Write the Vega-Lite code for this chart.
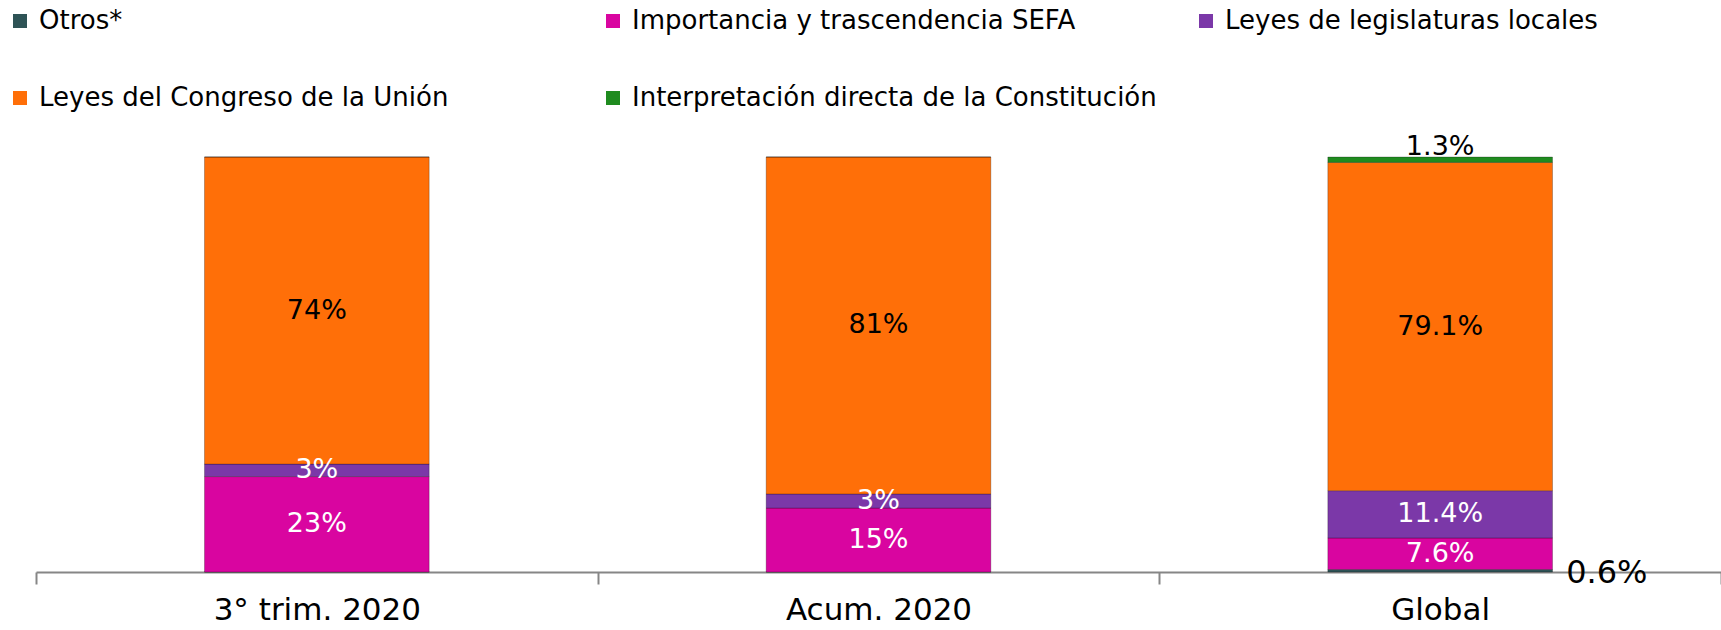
{
  "$schema": "https://vega.github.io/schema/vega-lite/v6.json",
  "width": 1685,
  "height": 415,
  "autosize": {"type": "none"},
  "padding": {"left": 36, "top": 157, "right": 0, "bottom": 58},
  "background": "white",
  "config": {"view": {"stroke": null}, "font": "DejaVu Sans"},
  "data": {
    "values": [
      {"periodo": "3° trim. 2020", "serie": "Otros*", "orden": 1, "valor": 0.0, "label": ""},
      {"periodo": "3° trim. 2020", "serie": "Importancia y trascendencia SEFA", "orden": 2, "valor": 0.23, "label": "23%"},
      {"periodo": "3° trim. 2020", "serie": "Leyes de legislaturas locales", "orden": 3, "valor": 0.03, "label": "3%"},
      {"periodo": "3° trim. 2020", "serie": "Leyes del Congreso de la Unión", "orden": 4, "valor": 0.74, "label": "74%"},
      {"periodo": "3° trim. 2020", "serie": "Interpretación directa de la Constitución", "orden": 5, "valor": 0.0, "label": ""},
      {"periodo": "Acum. 2020", "serie": "Otros*", "orden": 1, "valor": 0.0, "label": ""},
      {"periodo": "Acum. 2020", "serie": "Importancia y trascendencia SEFA", "orden": 2, "valor": 0.154, "label": "15%"},
      {"periodo": "Acum. 2020", "serie": "Leyes de legislaturas locales", "orden": 3, "valor": 0.034, "label": "3%"},
      {"periodo": "Acum. 2020", "serie": "Leyes del Congreso de la Unión", "orden": 4, "valor": 0.812, "label": "81%"},
      {"periodo": "Acum. 2020", "serie": "Interpretación directa de la Constitución", "orden": 5, "valor": 0.0, "label": ""},
      {"periodo": "Global", "serie": "Otros*", "orden": 1, "valor": 0.006, "label": "0.6%"},
      {"periodo": "Global", "serie": "Importancia y trascendencia SEFA", "orden": 2, "valor": 0.076, "label": "7.6%"},
      {"periodo": "Global", "serie": "Leyes de legislaturas locales", "orden": 3, "valor": 0.114, "label": "11.4%"},
      {"periodo": "Global", "serie": "Leyes del Congreso de la Unión", "orden": 4, "valor": 0.791, "label": "79.1%"},
      {"periodo": "Global", "serie": "Interpretación directa de la Constitución", "orden": 5, "valor": 0.013, "label": "1.3%"}
    ]
  },
  "encoding": {
    "x": {
      "field": "periodo",
      "type": "nominal",
      "sort": ["3° trim. 2020", "Acum. 2020", "Global"],
      "scale": {"paddingInner": 0, "paddingOuter": 0},
      "axis": {
        "title": null,
        "labelAngle": 0,
        "labelFontSize": 31,
        "labelColor": "#000000",
        "labelPadding": 11,
        "labelLimit": 500,
        "labelBaseline": "top",
        "tickBand": "extent",
        "tickSize": 12,
        "domainColor": "#868686",
        "tickColor": "#868686",
        "domainWidth": 2,
        "tickWidth": 2
      }
    }
  },
  "layer": [
    {
      "mark": {"type": "bar", "width": {"band": 0.4}, "stroke": "#00000040", "strokeWidth": 1},
      "encoding": {
        "y": {"field": "valor", "type": "quantitative", "stack": "zero", "scale": {"domain": [0, 1], "nice": false}, "axis": null},
        "order": {"field": "orden", "type": "quantitative"},
        "color": {
          "field": "serie",
          "type": "nominal",
          "scale": {
            "domain": ["Otros*", "Importancia y trascendencia SEFA", "Leyes de legislaturas locales", "Leyes del Congreso de la Unión", "Interpretación directa de la Constitución"],
            "range": ["#2E5356", "#D905A0", "#7B38A8", "#FF6F08", "#1F8B1F"]
          },
          "legend": {
            "orient": "none",
            "legendX": -29,
            "legendY": -149,
            "direction": "horizontal",
            "columns": 3,
            "gridAlign": "all",
            "columnPadding": 36,
            "rowPadding": 51,
            "title": null,
            "symbolType": "square",
            "symbolSize": 196,
            "symbolStrokeWidth": 0,
            "labelFontSize": 26,
            "labelColor": "#000000",
            "labelOffset": 6,
            "labelLimit": 800
          }
        }
      }
    },
    {
      "mark": {"type": "text", "fontSize": 27, "baseline": "middle", "align": "center"},
      "encoding": {
        "y": {"field": "valor", "type": "quantitative", "stack": "zero", "bandPosition": 0.5},
        "detail": {"field": "serie"},
        "order": {"field": "orden", "type": "quantitative"},
        "text": {"condition": {"test": "datum.valor < 0.02", "value": ""}, "field": "label"},
        "color": {"condition": {"test": "datum.serie === 'Leyes del Congreso de la Unión'", "value": "#000000"}, "value": "#FFFFFF"}
      }
    },
    {
      "mark": {"type": "text", "fontSize": 27, "baseline": "bottom", "align": "center", "dy": 4, "color": "#000000"},
      "encoding": {
        "y": {"field": "valor", "type": "quantitative", "stack": "zero"},
        "detail": {"field": "serie"},
        "order": {"field": "orden", "type": "quantitative"},
        "text": {"condition": {"test": "datum.serie === 'Interpretación directa de la Constitución'", "field": "label"}, "value": ""}
      }
    },
    {
      "mark": {"type": "text", "fontSize": 32, "baseline": "middle", "align": "left", "dx": 126, "dy": 2, "color": "#000000"},
      "encoding": {
        "y": {"field": "valor", "type": "quantitative", "stack": "zero", "bandPosition": 0.5},
        "detail": {"field": "serie"},
        "order": {"field": "orden", "type": "quantitative"},
        "text": {"condition": {"test": "datum.serie === 'Otros*'", "field": "label"}, "value": ""}
      }
    }
  ]
}
